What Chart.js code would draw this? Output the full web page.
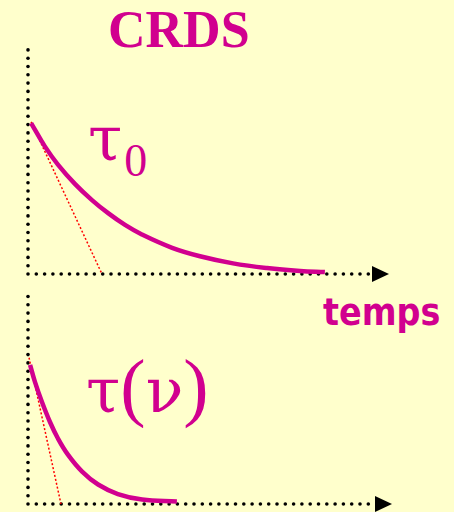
<!DOCTYPE html>
<html>
<head>
<meta charset="utf-8">
<script src="https://cdn.jsdelivr.net/npm/chart.js@4"></script>
<style>
  html, body { margin: 0; padding: 0; }
  body { width: 454px; height: 512px; background: #FFFFCC; position: relative; overflow: hidden; }
  canvas { position: absolute; left: 0; }
  .lbl { position: absolute; color: #D1008F; line-height: 1; white-space: nowrap; }
  .serif { font-family: "Liberation Serif", "Times New Roman", serif; }
  .grec { font-family: "DejaVu Serif", serif; }
</style>
</head>
<body>
<div class="lbl serif" id="titre" style="left:108px; top:4px; font-size:52px; font-weight:bold;">CRDS</div>
<div class="lbl serif" style="left:88px; top:108px; font-size:62px;"><span class="grec">τ</span><span style="font-size:46px; position:relative; top:16px; margin-left:2px;">0</span></div>
<div class="lbl" style="left:323px; top:293px; font-size:38px; font-weight:bold; font-family:'DejaVu Sans', sans-serif; transform:scaleX(0.88); transform-origin:left top;">temps</div>
<div class="lbl serif" style="left:86px; top:348px; font-size:76px;"><span class="grec" style="font-size:62px;">τ</span>(<span class="grec" style="font-size:62px;">ν</span>)</div>

<canvas id="haut" width="454" height="290" style="top:0"></canvas>
<canvas id="bas" width="454" height="227" style="top:285px"></canvas>

<script>
// valeurs (temps en unités arbitraires, axes de 0 à 10)
const hautTemps = [0.09, 0.49, 0.87, 1.37, 1.86, 2.33, 2.82, 3.31, 4.19, 5.00, 5.96, 6.95, 7.91, 8.63];
const hautSignal = [6.80, 5.75, 4.93, 4.05, 3.33, 2.74, 2.21, 1.78, 1.18, 0.80, 0.48, 0.27, 0.14, 0.09];
const hautTangenteTemps = [0.09, 2.15];
const hautTangenteSignal = [6.85, 0];

const basTemps = [0.06, 0.20, 0.40, 0.63, 0.86, 1.15, 1.56, 2.02, 2.59, 3.29, 4.29];
const basSignal = [6.56, 5.76, 4.82, 3.88, 3.10, 2.33, 1.53, 0.92, 0.47, 0.21, 0.12];
const basTangenteTemps = [0.03, 0.95];
const basTangenteSignal = [6.90, 0];

const MAGENTA = "#D1008F";
const PAS = 8.3; // espacement des points des axes

function points(xs, ys) {
  return xs.map((x, i) => ({ x: x, y: ys[i] }));
}

// axes en pointillés avec une flèche au bout
const axesPointilles = {
  id: "axesPointilles",
  beforeDatasetsDraw(chart) {
    const ctx = chart.ctx;
    const x0 = chart.scales.x.getPixelForValue(0);
    const y0 = chart.scales.y.getPixelForValue(0);
    const xFin = chart.scales.x.getPixelForValue(10);
    const yHaut = chart.scales.y.getPixelForValue(10);
    ctx.save();
    ctx.fillStyle = "#000";
    const dot = (x, y) => {
      ctx.beginPath();
      ctx.arc(x, y, 1.8, 0, Math.PI * 2);
      ctx.fill();
    };
    for (let y = y0; y >= yHaut - 3; y -= PAS) dot(x0, y);
    for (let x = x0 + PAS; x <= xFin - 2; x += PAS) dot(x, y0);
    ctx.beginPath();
    ctx.moveTo(xFin, y0 - 8);
    ctx.lineTo(xFin + 17, y0);
    ctx.lineTo(xFin, y0 + 8);
    ctx.closePath();
    ctx.fill();
    ctx.restore();
  },
};

function creerGraphe(id, padding, temps, signal, tTemps, tSignal) {
  var ctx = document.getElementById(id).getContext("2d");
  return new Chart(ctx, {
    type: "line",
    data: {
      datasets: [
        {
          data: points(temps, signal),
          borderColor: MAGENTA,
          borderWidth: 4.5,
          pointRadius: 0,
          tension: 0.4,
          clip: 10,
          order: 0,
        },
        {
          data: points(tTemps, tSignal),
          borderColor: "#FF0000",
          borderWidth: 1.5,
          borderDash: [2, 2],
          pointRadius: 0,
          clip: 10,
          order: 1,
        },
      ],
    },
    options: {
      responsive: false,
      animation: false,
      devicePixelRatio: 1,
      layout: { padding: padding },
      scales: {
        x: { type: "linear", display: false, min: 0, max: 10 },
        y: { display: false, min: 0, max: 10 },
      },
      plugins: {
        legend: { display: false },
        tooltip: { enabled: false },
      },
    },
    plugins: [axesPointilles],
  });
}

creerGraphe("haut", { left: 28, right: 82, top: 52, bottom: 16 },
  hautTemps, hautSignal, hautTangenteTemps, hautTangenteSignal);
creerGraphe("bas", { left: 28, right: 79, top: 7, bottom: 8 },
  basTemps, basSignal, basTangenteTemps, basTangenteSignal);
</script>
</body>
</html>
